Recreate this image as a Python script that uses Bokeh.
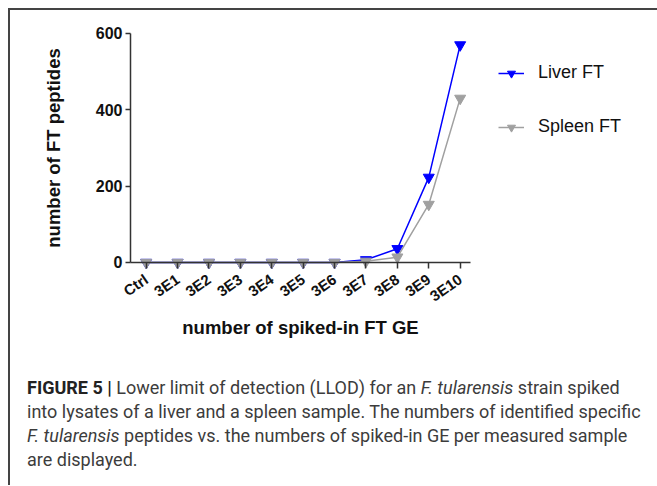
from bokeh.plotting import figure
from bokeh.models import Range1d, FixedTicker, Legend, LegendItem, Div
from bokeh.layouts import column
from bokeh.embed import file_html
from bokeh.resources import INLINE

categories = ["Ctrl", "3E1", "3E2", "3E3", "3E4", "3E5", "3E6", "3E7", "3E8", "3E9", "3E10"]
liver = [0, 0, 0, 0, 0, 0, 0, 7, 36, 223, 570]
spleen = [0, 0, 0, 0, 0, 0, 0, 3, 14, 152, 430]
y_ticks = [0, 200, 400, 600]

xs = list(range(len(categories)))

p = figure(frame_width=639, frame_height=340, x_range=Range1d(-4.322, 16.03), y_range=Range1d(-230.6, 660.26),
           output_backend="svg", toolbar_location=None,
           min_border_left=0, min_border_right=0, min_border_top=0, min_border_bottom=0)
p.outline_line_color = None
p.xgrid.grid_line_color = None
p.ygrid.grid_line_color = None
p.background_fill_color = None
p.border_fill_color = None

BLUE = "#0000ff"
GRAY = "#a0a0a0"

l1 = p.line(xs, liver, line_color=BLUE, line_width=1.5)
s1 = p.scatter(xs, liver, marker="inverted_triangle", size=11, fill_color=BLUE, line_color=BLUE)
l2 = p.line(xs, spleen, line_color=GRAY, line_width=1.5)
s2 = p.scatter(xs, spleen, marker="inverted_triangle", size=11, fill_color=GRAY, line_color=GRAY)

for ax in (p.xaxis, p.yaxis):
    ax.axis_line_color = "#333333"
    ax.axis_line_width = 1.5
    ax.major_tick_line_color = "#333333"
    ax.major_tick_line_width = 1.5
    ax.minor_tick_line_color = None
    ax.major_tick_in = 0
    ax.major_label_text_font = "Liberation Sans"
    ax.major_label_text_font_style = "bold"
    ax.major_label_text_color = "#111111"
    ax.axis_label_text_font = "Liberation Sans"
    ax.axis_label_text_font_style = "bold"
    ax.axis_label_text_color = "#111111"
    ax.axis_label_text_font_size = "18.5px"

p.xaxis.ticker = FixedTicker(ticks=xs)
p.xaxis.fixed_location = 0
p.xaxis.bounds = (-0.5, 10.33)
p.xaxis.major_label_overrides = {i: c for i, c in zip(xs, categories)}
p.xaxis.major_label_orientation = 0.61
p.xaxis.major_label_text_font_size = "15px"
p.xaxis.major_tick_out = 6
p.xaxis.major_label_standoff = 9
p.xaxis.axis_label = "number of spiked-in FT GE"
p.xaxis.axis_label_standoff = 2

p.yaxis.ticker = FixedTicker(ticks=y_ticks)
p.yaxis.fixed_location = -0.5
p.yaxis.bounds = (0, 600)
p.yaxis.major_label_text_font_size = "16px"
p.yaxis.major_tick_out = 5
p.yaxis.major_label_standoff = 3
p.yaxis.axis_label = "number of FT peptides"
p.yaxis.axis_label_standoff = 29

legend = Legend(items=[LegendItem(label="Liver FT", renderers=[l1, s1]),
                       LegendItem(label="Spleen FT", renderers=[l2, s2])],
                location=(488, 213), padding=0, margin=0, spacing=33,
                glyph_width=26, glyph_height=20, label_height=20, label_standoff=14,
                label_text_font="Liberation Sans", label_text_font_size="18px",
                label_text_color="#111111",
                border_line_color=None, background_fill_alpha=0)
p.add_layout(legend)

caption = ('<div style="margin-top:21px; margin-left:12px; font-family:Roboto; font-size:18px; '
           'line-height:24px; color:#3c3c3c; white-space:nowrap;">'
           '<b style="color:#222222">FIGURE 5 |</b> Lower limit of detection (LLOD) for an '
           '<i>F. tularensis</i> strain spiked<br>'
           'into lysates of a liver and a spleen sample. The numbers of identified specific<br>'
           '<i>F. tularensis</i> peptides vs. the numbers of spiked-in GE per measured sample<br>'
           'are displayed.</div>')
div = Div(text=caption, width=639, height=125)

layout = column(p, div, styles={"border-top": "2px solid #444444", "border-left": "2px solid #444444",
                                "margin-top": "8px", "margin-left": "8px"})

open("out.html", "w").write(file_html(layout, INLINE))
